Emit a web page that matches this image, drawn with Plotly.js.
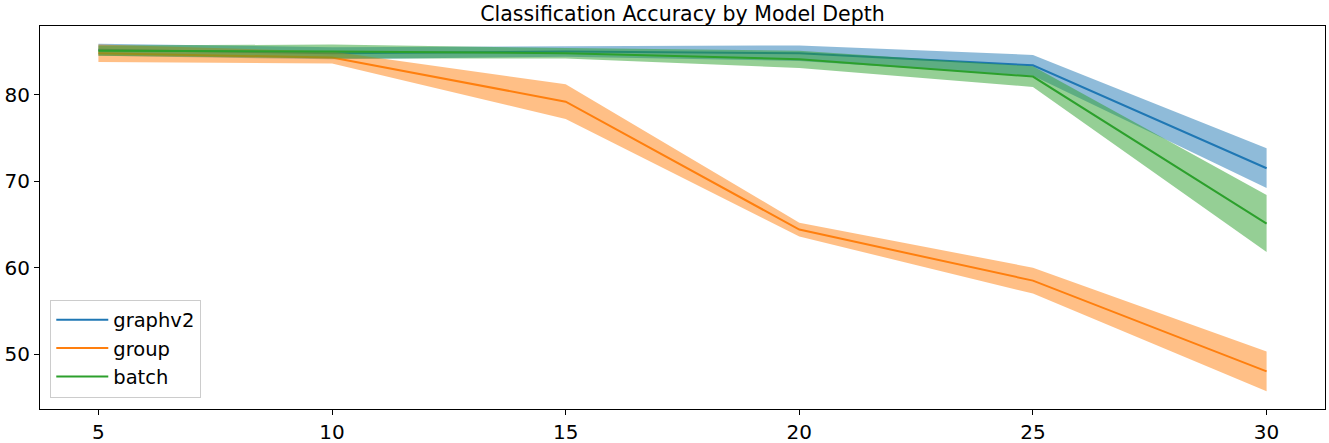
<!DOCTYPE html>
<html>
<head>
<meta charset="utf-8">
<script src="https://cdn.plot.ly/plotly-3.0.1.min.js"></script>
<style>html,body{margin:0;padding:0;background:#fff;}#chart{width:1329px;height:443px;}</style>
</head>
<body>
<div id="chart"></div>
<script>
const depths = [5, 10, 15, 20, 25, 30];
const seriesNames = ['graphv2', 'group', 'batch'];
const graphv2Mean = [85.2, 84.8, 85.0, 84.8, 83.4, 71.5];
const graphv2Std  = [0.7, 0.7, 0.6, 0.9, 1.2, 2.3];
const groupMean   = [84.8, 84.3, 79.2, 64.4, 58.5, 48.0];
const groupStd    = [1.0, 0.7, 2.0, 0.8, 1.5, 2.3];
const batchMean   = [85.1, 85.0, 84.8, 84.1, 82.1, 65.1];
const batchStd    = [0.6, 0.8, 0.6, 1.0, 1.2, 3.3];

const colors = ['#1f77b4', '#ff7f0e', '#2ca02c'];
const fills = ['rgba(31,119,180,0.5)', 'rgba(255,127,14,0.5)', 'rgba(44,160,44,0.5)'];
const means = [graphv2Mean, groupMean, batchMean];
const stds = [graphv2Std, groupStd, batchStd];

const traces = [];
seriesNames.forEach((name, i) => {
  traces.push({
    x: depths, y: means[i], type: 'scatter', mode: 'lines', name: name,
    line: {color: colors[i], width: 2}, hoverinfo: 'skip'
  });
  const upper = means[i].map((m, k) => m + stds[i][k]);
  const lower = means[i].map((m, k) => m - stds[i][k]);
  traces.push({
    x: depths.concat(depths.slice().reverse()),
    y: upper.concat(lower.slice().reverse()),
    type: 'scatter', mode: 'lines', fill: 'toself', fillcolor: fills[i],
    line: {width: 0, color: 'rgba(0,0,0,0)'}, showlegend: false, hoverinfo: 'skip'
  });
});

const font = {family: 'DejaVu Sans, sans-serif', size: 20, color: '#000'};
const layout = {
  width: 1329, height: 443,
  margin: {l: 40, r: 4, t: 26, b: 34, pad: 0},
  paper_bgcolor: '#fff', plot_bgcolor: '#fff',
  font: font,
  title: {text: 'Classification Accuracy by Model Depth', font: {family: 'DejaVu Sans, sans-serif', size: 20.5, color: '#000'},
          x: 0.5, xref: 'paper', xanchor: 'center', y: 1, yref: 'paper', yanchor: 'bottom', pad: {b: 5}},
  xaxis: {range: [3.75, 31.25], tickvals: depths, showgrid: false, zeroline: false,
          showline: true, mirror: true, linecolor: '#000', linewidth: 1,
          ticks: 'outside', ticklen: 5, tickwidth: 1, tickcolor: '#000', tickfont: font},
  yaxis: {range: [43.65, 87.95], tickvals: [50, 60, 70, 80], showgrid: false, zeroline: false,
          showline: true, mirror: true, linecolor: '#000', linewidth: 1,
          ticks: 'outside', ticklen: 5, tickwidth: 1, tickcolor: '#000', tickfont: font},
  legend: {x: 0.008, y: 0.03, xanchor: 'left', yanchor: 'bottom',
           bgcolor: 'rgba(255,255,255,0.8)', bordercolor: '#cccccc', borderwidth: 1,
           font: {family: 'DejaVu Sans, sans-serif', size: 19.5, color: '#000'},
           tracegroupgap: 0, itemwidth: 52},
  showlegend: true
};
Plotly.newPlot('chart', traces, layout, {staticPlot: true, displayModeBar: false});
</script>
</body>
</html>
